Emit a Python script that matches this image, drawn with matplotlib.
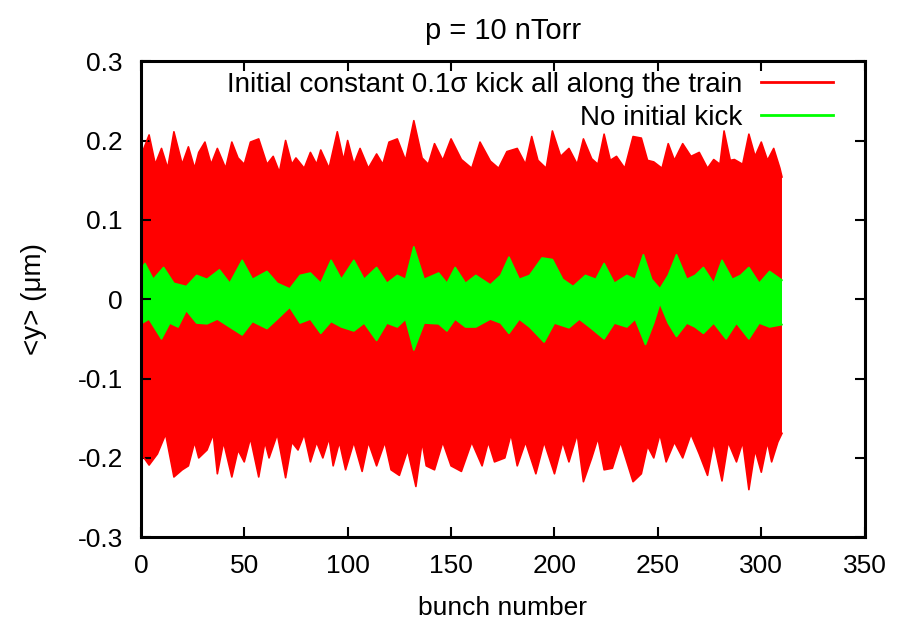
import numpy as np
import matplotlib
matplotlib.use("Agg")
import matplotlib.pyplot as plt
from matplotlib.ticker import FuncFormatter

plt.rcParams['font.family'] = ['Liberation Sans', 'DejaVu Sans']

# envelopes of the bundle of traces, (bunch number, <y> in um)
red_top = [(0, 0.18), (4, 0.207), (7, 0.17), (10, 0.19), (13, 0.165), (16, 0.211), (20, 0.17),
           (23, 0.192), (26, 0.165), (28, 0.185), (31, 0.198), (34, 0.17), (37, 0.19), (41, 0.165),
           (44, 0.198), (47, 0.178), (50, 0.17), (53, 0.198), (57, 0.202), (61, 0.17), (64, 0.18),
           (67, 0.16), (70, 0.2), (73, 0.17), (75, 0.178), (79, 0.165), (82, 0.185), (85, 0.17),
           (87, 0.188), (91, 0.165), (95, 0.211), (98, 0.175), (100, 0.2), (103, 0.17), (106, 0.19),
           (110, 0.165), (114, 0.183), (117, 0.17), (120, 0.198), (124, 0.202), (128, 0.175),
           (132, 0.225), (136, 0.178), (139, 0.17), (142, 0.196), (146, 0.175), (150, 0.202),
           (155, 0.176), (160, 0.165), (164, 0.198), (169, 0.174), (173, 0.165), (177, 0.186),
           (182, 0.19), (186, 0.17), (189, 0.205), (192, 0.175), (196, 0.165), (199, 0.212),
           (203, 0.18), (207, 0.19), (211, 0.17), (214, 0.202), (218, 0.177), (221, 0.17),
           (224, 0.208), (227, 0.175), (230, 0.18), (234, 0.165), (238, 0.205), (242, 0.203),
           (245, 0.175), (248, 0.173), (252, 0.165), (255, 0.196), (258, 0.175), (262, 0.196),
           (266, 0.18), (270, 0.185), (274, 0.165), (277, 0.176), (280, 0.17), (282, 0.212),
           (285, 0.175), (287, 0.176), (291, 0.17), (294, 0.208), (297, 0.18), (300, 0.198),
           (303, 0.175), (306, 0.19), (309, 0.165), (310, 0.154)]

red_bot = [(0, -0.194), (4, -0.209), (8, -0.195), (12, -0.17), (16, -0.224), (20, -0.215),
           (23, -0.21), (26, -0.18), (28, -0.2), (32, -0.19), (35, -0.17), (37, -0.22), (40, -0.18),
           (44, -0.224), (47, -0.19), (50, -0.205), (53, -0.175), (57, -0.224), (60, -0.18),
           (62, -0.2), (66, -0.17), (70, -0.225), (73, -0.18), (76, -0.19), (79, -0.17),
           (82, -0.205), (85, -0.18), (88, -0.2), (91, -0.175), (93, -0.21), (96, -0.18),
           (99, -0.215), (103, -0.18), (107, -0.217), (110, -0.18), (114, -0.21), (118, -0.18),
           (121, -0.215), (125, -0.222), (129, -0.19), (133, -0.236), (136, -0.18), (138, -0.21),
           (142, -0.215), (146, -0.18), (150, -0.21), (155, -0.217), (160, -0.18), (165, -0.21),
           (168, -0.18), (171, -0.205), (176, -0.2), (179, -0.17), (182, -0.21), (186, -0.18),
           (191, -0.22), (195, -0.18), (200, -0.22), (204, -0.18), (207, -0.205), (211, -0.17),
           (214, -0.23), (218, -0.2), (221, -0.175), (224, -0.215), (228, -0.213), (232, -0.18),
           (238, -0.23), (242, -0.22), (245, -0.185), (248, -0.2), (251, -0.17), (254, -0.205),
           (258, -0.18), (262, -0.2), (266, -0.17), (270, -0.195), (274, -0.222), (277, -0.18),
           (281, -0.229), (284, -0.18), (288, -0.205), (291, -0.18), (294, -0.24), (297, -0.19),
           (300, -0.218), (303, -0.18), (305, -0.205), (308, -0.18), (310, -0.169)]

green_top = [(0, 0.037), (2, 0.045), (6, 0.025), (11, 0.04), (16, 0.02), (22, 0.016), (27, 0.03),
             (32, 0.025), (38, 0.037), (43, 0.02), (49, 0.049), (54, 0.025), (61, 0.035),
             (66, 0.02), (72, 0.013), (77, 0.03), (82, 0.033), (87, 0.02), (92, 0.049), (97, 0.025),
             (103, 0.049), (108, 0.025), (114, 0.04), (119, 0.02), (124, 0.03), (128, 0.025),
             (132, 0.066), (137, 0.025), (144, 0.033), (148, 0.02), (152, 0.04), (157, 0.02),
             (162, 0.03), (169, 0.018), (174, 0.03), (178, 0.053), (183, 0.025), (188, 0.03),
             (194, 0.052), (199, 0.05), (204, 0.025), (209, 0.016), (215, 0.03), (220, 0.025),
             (224, 0.045), (229, 0.02), (235, 0.03), (239, 0.025), (243, 0.056), (247, 0.025),
             (251, 0.013), (255, 0.03), (259, 0.056), (264, 0.025), (268, 0.03), (272, 0.04),
             (277, 0.02), (281, 0.049), (286, 0.025), (290, 0.03), (294, 0.04), (299, 0.02),
             (304, 0.035), (310, 0.024)]

green_bot = [(0, -0.031), (4, -0.025), (10, -0.05), (14, -0.03), (18, -0.035), (22, -0.014),
             (27, -0.03), (32, -0.031), (37, -0.025), (43, -0.035), (49, -0.045), (54, -0.028),
             (61, -0.037), (66, -0.025), (72, -0.01), (77, -0.03), (82, -0.025), (87, -0.043),
             (92, -0.028), (97, -0.035), (103, -0.04), (108, -0.03), (114, -0.052), (119, -0.03),
             (124, -0.035), (128, -0.025), (132, -0.064), (137, -0.03), (144, -0.031), (148, -0.04),
             (152, -0.025), (157, -0.035), (162, -0.035), (169, -0.025), (174, -0.03),
             (178, -0.043), (183, -0.025), (188, -0.035), (195, -0.054), (200, -0.03),
             (207, -0.036), (212, -0.025), (217, -0.035), (224, -0.05), (229, -0.03), (235, -0.035),
             (239, -0.025), (244, -0.057), (248, -0.03), (251, -0.005), (255, -0.03), (259, -0.047),
             (264, -0.03), (268, -0.035), (272, -0.043), (277, -0.03), (283, -0.05), (288, -0.03),
             (294, -0.05), (299, -0.03), (304, -0.035), (310, -0.032)]

labels = ['Initial constant 0.1\u03c3 kick all along the train', 'No initial kick']
colors = ['#ff0000', '#00ff00']


def band(ax, top, bot, color, label):
    tx, ty = np.array(top).T
    bx, by = np.array(bot).T
    ax.fill(np.concatenate([tx, bx[::-1]]), np.concatenate([ty, by[::-1]]),
            color=color, lw=0)
    ax.plot(tx, ty, color=color, lw=1.2, label=label)
    ax.plot(bx, by, color=color, lw=1.2)


fig = plt.figure(figsize=(8.97, 6.24), dpi=100)
ax = fig.add_axes([0.157, 0.139, 0.807, 0.763])

band(ax, red_top, red_bot, colors[0], labels[0])
band(ax, green_top, green_bot, colors[1], labels[1])

ax.set_xlim(0, 350)
ax.set_ylim(-0.3, 0.3)
ax.set_xticks(np.arange(0, 351, 50))
ax.set_yticks(np.arange(-0.3, 0.31, 0.1))
ax.yaxis.set_major_formatter(FuncFormatter(lambda v, p: f'{round(v, 2) + 0:g}'))
ax.tick_params(direction='in', length=7, width=1.5, top=True, right=True, labelsize=19)
ax.tick_params(axis='x', pad=12)
ax.tick_params(axis='y', pad=13)
for s in ax.spines.values():
    s.set_linewidth(2.2)

ax.set_xlabel('bunch number', fontsize=19, labelpad=13)
ax.set_ylabel('<y> (\u03bcm)', fontsize=20, labelpad=22)
ax.set_title('p = 10 nTorr', fontsize=21, pad=16)

leg = ax.legend(loc='upper right', bbox_to_anchor=(0.956, 0.978), frameon=False,
                markerfirst=False, fontsize=20, handlelength=2.6, handletextpad=0.65,
                labelspacing=0.25, borderaxespad=0, borderpad=0)
for h in leg.get_lines():
    h.set_linewidth(2)

fig.savefig('out.png', dpi=100)
